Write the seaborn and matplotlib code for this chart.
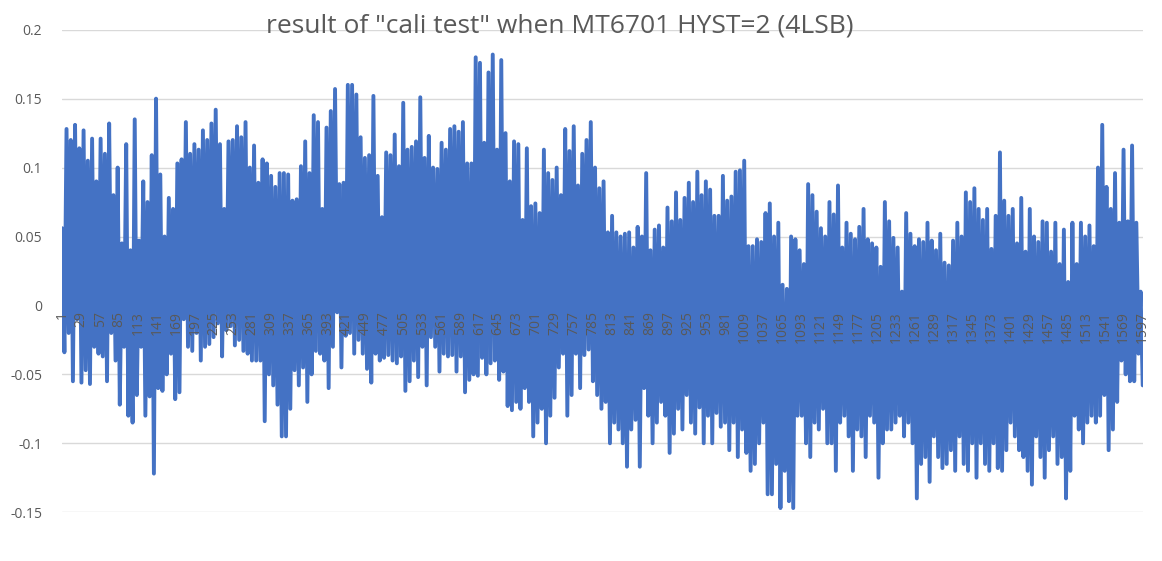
import numpy as np
import matplotlib
matplotlib.use("Agg")
import matplotlib.pyplot as plt
import seaborn as sns
from matplotlib.ticker import FuncFormatter

# peaks and troughs of the trace in order (sample 1..1597)
peaks = [
    .056, .128, .12, .131, .114, .127, .105, .121, .09, .121, .11, .132, .08, .10, .045, .117, .04, .135, .047, .09, .075, .109, .15,
    .095, .05, .078, .07, .103, .106, .133, .11, .117, .113, .127, .12, .132, .142, .117, .07, .119, .12, .13, .122, .133, .1, .116, .089,
    .106, .103, .094, .086, .096, .096, .095, .076, .077, .101, .119, .096, .138, .133, .07, .129, .141, .157, .088, .089, .16, .16, .153,
    .122, .107, .109, .152, .094, .064, .111, .109, .124, .101, .147, .113, .115, .119, .151, .107, .123, .1, .099, .118, .113,
    .128, .13, .126, .133, .103, .103, .18, .176, .118, .169, .182, .113, .178, .125, .09, .119, .117, .062, .114,
    .072, .074, .067, .113, .096, .091, .1, .08, .128, .112, .13, .087, .11, .12, .133, .1, .085, .09, .053, .065, .053, .05,
    .052, .053, .042, .057, .05, .096, .04, .055, .058, .042, .071, .061, .082, .062, .078, .089, .075, .097, .08, .09, .084, .065,
    .065, .094, .076, .079, .097, .098, .105, .043, .043, .048, .046, .067, .074, .05, .06, .015, .012, .05, .048, .04, .03, .088,
    .08, .068, .056, .05, .075, .066, .087, .042, .06, .052, .048, .057, .07, .048, .045, .042, .028, .075, .061, .049, .042, .01,
    .067, .052, .043, .048, .046, .06, .047, .04, .052, .031, .029, .047, .06, .05, .082, .075, .085, .07, .062, .07, .041, .065, .111,
    .076, .065, .07, .045, .078, .039, .07, .05, .046, .061, .06, .039, .06, .03, .055, .017, .06, .03, .06, .05, .058, .043,
    .1, .131, .086, .07, .096, .06, .113, .061, .116, .06, .01,
]
troughs = [
    -.034, -.02, -.055, -.01, -.056, -.047, -.057, -.03, -.035, -.037, -.055, -.02, -.04, -.072, -.03, -.08, -.085, -.065, -.03, -.08, -.066, -.122, -.06,
    -.062, -.05, -.035, -.068, -.063, -.01, -.03, -.033, -.02, -.04, -.03, -.028, -.023, -.013, -.037, -.018, -.015, -.029, -.025, -.033, -.035, -.04, -.04, -.04,
    -.084, -.05, -.058, -.072, -.095, -.095, -.075, -.047, -.058, -.045, -.07, -.05, -.033, -.035, -.04, -.06, -.03, -.005, -.045, -.022, -.02, -.035, -.025,
    -.035, -.046, -.056, -.035, -.04, -.038, -.036, -.04, -.042, -.037, -.062, -.055, -.04, -.052, -.03, -.058, -.023, -.03, -.048, -.035, -.037,
    -.036, -.048, -.037, -.063, -.054, -.05, -.051, -.038, -.05, -.042, -.04, -.054, -.048, -.073, -.076, -.07, -.075, -.06, -.07,
    -.095, -.085, -.075, -.1, -.08, -.067, -.045, -.035, -.08, -.065, -.035, -.06, -.036, -.032, -.055, -.065, -.075, -.07, -.1, -.085, -.09, -.1,
    -.117, -.09, -.083, -.117, -.06, -.08, -.1, -.085, -.07, -.08, -.107, -.093, -.075, -.09, -.065, -.085, -.093, -.074, -.1, -.08, -.1, -.078,
    -.088, -.085, -.105, -.085, -.11, -.09, -.107, -.12, -.115, -.1, -.085, -.137, -.137, -.115, -.147, -.12, -.142, -.147, -.08, -.08, -.1, -.11,
    -.085, -.09, -.075, -.1, -.1, -.12, -.085, -.08, -.095, -.12, -.09, -.095, -.11, -.08, -.085, -.125, -.1, -.09, -.09, -.085, -.08, -.095,
    -.085, -.1, -.14, -.115, -.11, -.128, -.095, -.11, -.118, -.115, -.105, -.12, -.095, -.115, -.12, -.1, -.125, -.1, -.115, -.12, -.1, -.118, -.12,
    -.105, -.085, -.095, -.105, -.11, -.12, -.13, -.095, -.11, -.125, -.105, -.095, -.115, -.11, -.14, -.12, -.08, -.09, -.1, -.085, -.08, -.085,
    -.08, -.065, -.105, -.09, -.07, -.04, -.05, -.055, -.055, -.035, -.058,
]
first_sample = 1
last_sample = 1597
tick_step = 28
title = 'result of "cali test" when MT6701 HYST=2 (4LSB)'

n = min(len(peaks), len(troughs))
values = np.column_stack([peaks[:n], troughs[:n]]).ravel()
samples = np.linspace(first_sample, last_sample, len(values))

sns.set_theme(style="white")
plt.rcParams['font.family'] = ['Open Sans', 'DejaVu Sans']

fig = plt.figure(figsize=(11.62, 5.61), dpi=100)
ax = fig.add_axes([0.053, 0.087, 0.931, 0.86])

sns.lineplot(x=samples, y=values, ax=ax, color="#4472C4", linewidth=2.8)

ax.set_ylim(-0.15, 0.2)
ax.set_xlim(first_sample - 1, last_sample + 1)
ax.set_yticks(np.arange(-0.15, 0.2001, 0.05))
ax.yaxis.set_major_formatter(FuncFormatter(lambda v, p: f"{round(v, 2):g}"))
ax.tick_params(axis='y', length=0, labelsize=10, colors="#595959", pad=14)
ax.grid(axis='y', color="#d9d9d9", linewidth=1)
ax.set_axisbelow(True)
ax.set_xticks([])
for s in ax.spines.values():
    s.set_visible(False)

# category labels sit on the zero line, like the Excel axis crossing
for t in range(first_sample, last_sample + 1, tick_step):
    ax.text(t, -0.004, str(t), rotation=90, ha='center', va='top',
            fontsize=10, color="#595959")

fig.text(0.482, 0.953, title, ha='center', va='center', fontsize=19, color="#595959")

fig.savefig("out.png", dpi=100)
